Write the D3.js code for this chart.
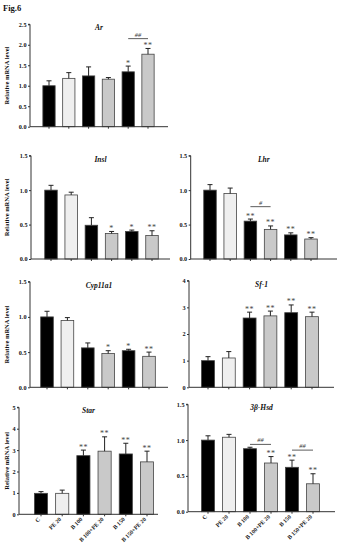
<!DOCTYPE html>
<html>
<head>
<meta charset="utf-8">
<script src="https://cdn.jsdelivr.net/npm/d3@7"></script>
<style>
  body { margin: 0; background: #fff; }
  svg text { font-family: "Liberation Serif", "Times New Roman", serif; font-weight: bold; fill: #111; }
</style>
</head>
<body>
<script>
/* groups shared by every panel */
const groups = ["C", "PE 20", "B 100", "B 100+PE 20", "B 150", "B 150+PE 20"];

/* Ar */
const arMean = [1.00, 1.18, 1.24, 1.16, 1.34, 1.77];
const arSem = [0.12, 0.14, 0.22, 0.04, 0.14, 0.14];
const arSig = ["", "", "", "", "*", "**"];
const arCmp = [[4, 5, "##", 2.15]];

/* Insl */
const inslMean = [1.00, 0.93, 0.49, 0.37, 0.40, 0.34];
const inslSem = [0.07, 0.04, 0.11, 0.03, 0.02, 0.07];
const inslSig = ["", "", "", "*", "*", "**"];

/* Lhr */
const lhrMean = [1.00, 0.95, 0.55, 0.43, 0.35, 0.29];
const lhrSem = [0.08, 0.08, 0.03, 0.05, 0.03, 0.02];
const lhrSig = ["", "", "**", "**", "**", "**"];
const lhrCmp = [[2, 3, "#", 0.76]];

/* Cyp11a1 */
const cypMean = [1.00, 0.95, 0.56, 0.48, 0.52, 0.44];
const cypSem = [0.08, 0.04, 0.07, 0.04, 0.02, 0.06];
const cypSig = ["", "", "", "*", "*", "**"];

/* Sf-1 */
const sf1Mean = [1.00, 1.10, 2.60, 2.68, 2.80, 2.65];
const sf1Sem = [0.15, 0.24, 0.22, 0.18, 0.29, 0.17];
const sf1Sig = ["", "", "**", "**", "**", "**"];

/* Star */
const starMean = [0.98, 0.98, 2.74, 2.95, 2.82, 2.45];
const starSem = [0.08, 0.15, 0.26, 0.67, 0.50, 0.50];
const starSig = ["", "", "**", "**", "**", "**"];

/* 3b-Hsd */
const hsdMean = [1.00, 1.04, 0.88, 0.68, 0.62, 0.39];
const hsdSem = [0.06, 0.04, 0.02, 0.09, 0.10, 0.14];
const hsdSig = ["", "", "", "**", "**", "**"];
const hsdCmp = [[2, 3, "##", 0.94], [4, 5, "##", 0.86]];

/* bar fill per group */
const fills = ["#000", "#efefef", "#000", "#c9c9c9", "#000", "#c9c9c9"];

const W = 339, H = 550;
let svg = d3.select("body").append("svg")
  .attr("width", W)
  .attr("height", H);

svg.append("text")
  .attr("x", 3).attr("y", 11)
  .style("font-size", "8.5px")
  .text("Fig.6");

/* panel layout: axis x, axis end, top/bottom of value range, band range */
const panels = [
  {title: "Ar", mean: arMean, sem: arSem, sig: arSig, cmp: arCmp, ymax: 2.5, step: 0.5, fmt: ".1f",
   ax: 30, ex: 168, top: 24.3, bot: 126.7, b0: 39.1, b1: 157.9, ylab: true, xlab: false},
  {title: "Insl", mean: inslMean, sem: inslSem, sig: inslSig, cmp: [], ymax: 1.5, step: 0.5, fmt: ".1f",
   ax: 31, ex: 170, top: 155.7, bot: 259, b0: 40.9, b1: 162.1, ylab: true, xlab: false},
  {title: "Lhr", mean: lhrMean, sem: lhrSem, sig: lhrSig, cmp: lhrCmp, ymax: 1.5, step: 0.5, fmt: ".1f",
   ax: 190.7, ex: 337, top: 155.7, bot: 259, b0: 199.9, b1: 321.1, ylab: false, xlab: false},
  {title: "Cyp11a1", mean: cypMean, sem: cypSem, sig: cypSig, cmp: [], ymax: 1.5, step: 0.5, fmt: ".1f",
   ax: 30, ex: 168, top: 281.7, bot: 387.3, b0: 36.8, b1: 159.2, ylab: true, xlab: false},
  {title: "Sf-1", mean: sf1Mean, sem: sf1Sem, sig: sf1Sig, cmp: [], ymax: 4, step: 1, fmt: "d",
   ax: 189, ex: 334, top: 280.7, bot: 387.3, b0: 197.6, b1: 322.4, ylab: false, xlab: false},
  {title: "Star", mean: starMean, sem: starSem, sig: starSig, cmp: [], ymax: 5, step: 1, fmt: "d",
   ax: 19, ex: 158, top: 407.3, bot: 514.3, b0: 30.4, b1: 157.6, ylab: true, xlab: true},
  {title: "3\u03b2-Hsd", mean: hsdMean, sem: hsdSem, sig: hsdSig, cmp: hsdCmp, ymax: 1.5, step: 0.5, fmt: ".1f",
   ax: 188, ex: 335, top: 404.3, bot: 511.7, b0: 197.5, b1: 323.5, ylab: false, xlab: true}
];

panels.forEach(drawPanel);

function drawPanel(p) {
  let g = svg.append("g");
  let x = d3.scaleBand()
    .domain(groups)
    .range([p.b0, p.b1])
    .paddingInner(0.38)
    .paddingOuter(0.19);
  let y = d3.scaleLinear()
    .domain([0, p.ymax])
    .range([p.bot, p.top]);

  // bars
  g.selectAll(".bar")
    .data(p.mean)
    .enter()
    .append("rect")
    .attr("x", (d, i) => x(groups[i]))
    .attr("y", d => y(d))
    .attr("width", x.bandwidth())
    .attr("height", d => y(0) - y(d))
    .style("fill", (d, i) => fills[i])
    .style("stroke", "#444")
    .style("stroke-width", 0.8);

  // upper error bars + stars
  let cx = i => x(groups[i]) + x.bandwidth() / 2;
  p.mean.forEach((m, i) => {
    let top = y(m + p.sem[i]);
    g.append("line")
      .attr("x1", cx(i)).attr("x2", cx(i))
      .attr("y1", y(m)).attr("y2", top)
      .style("stroke", "#222").style("stroke-width", 1);
    g.append("line")
      .attr("x1", cx(i) - 2.5).attr("x2", cx(i) + 2.5)
      .attr("y1", top).attr("y2", top)
      .style("stroke", "#222").style("stroke-width", 1);
    if (p.sig[i]) {
      g.append("text")
        .attr("x", cx(i)).attr("y", top - 0.5)
        .attr("text-anchor", "middle")
        .style("font-size", "8px")
        .style("font-weight", "normal")
        .style("letter-spacing", "0.5px")
        .style("fill", "#444")
        .text(p.sig[i]);
    }
  });

  // comparison lines (#)
  p.cmp.forEach(c => {
    let ly = y(c[3]);
    g.append("line")
      .attr("x1", cx(c[0])).attr("x2", cx(c[1]))
      .attr("y1", ly).attr("y2", ly)
      .style("stroke", "#333").style("stroke-width", 0.8);
    g.append("text")
      .attr("x", (cx(c[0]) + cx(c[1])) / 2).attr("y", ly - 2)
      .attr("text-anchor", "middle")
      .style("font-size", "6.5px")
      .style("font-style", "italic")
      .style("font-weight", "normal")
      .style("fill", "#333")
      .text(c[2]);
  });

  // y axis
  let yAxis = d3.axisLeft(y)
    .tickValues(d3.range(0, p.ymax + 1e-9, p.step))
    .tickFormat(d3.format(p.fmt))
    .tickSize(2)
    .tickPadding(1.5);
  let ya = g.append("g")
    .attr("transform", `translate(${p.ax},0)`)
    .call(yAxis);
  ya.select(".domain").attr("d", `M-2,${p.top}H0V${p.bot}`).style("stroke", "#333");
  ya.selectAll("line").style("stroke", "#333");
  ya.selectAll("text")
    .style("font-size", "6.2px")
    .style("font-family", "Liberation Serif, serif")
    .style("fill", "#111");

  // x axis
  let xAxis = d3.axisBottom(x)
    .tickSize(2)
    .tickFormat(p.xlab ? d => d : "");
  let xa = g.append("g")
    .attr("transform", `translate(0,${p.bot})`)
    .call(xAxis);
  xa.select(".domain").attr("d", `M${p.ax},0H${p.ex}`).style("stroke", "#333");
  xa.selectAll("line").style("stroke", "#333");
  if (p.xlab) {
    xa.selectAll("text")
      .attr("text-anchor", "end")
      .attr("transform", "translate(-2,4) rotate(-45)")
      .attr("dy", "0.35em")
      .attr("y", 0)
      .style("font-size", "5.8px")
      .style("font-family", "Liberation Serif, serif")
      .style("fill", "#111");
  }

  // panel title
  g.append("text")
    .attr("x", (p.ax + p.ex) / 2).attr("y", p.top + 6)
    .attr("text-anchor", "middle")
    .style("font-size", "7.5px")
    .style("font-style", "italic")
    .style("fill", "#111")
    .text(p.title);

  // y label
  if (p.ylab) {
    g.append("text")
      .attr("transform", `translate(9,${(p.top + p.bot) / 2}) rotate(-90)`)
      .attr("text-anchor", "middle")
      .style("font-size", "6.5px")
      .text("Relative mRNA level");
  }
}
</script>
</body>
</html>
